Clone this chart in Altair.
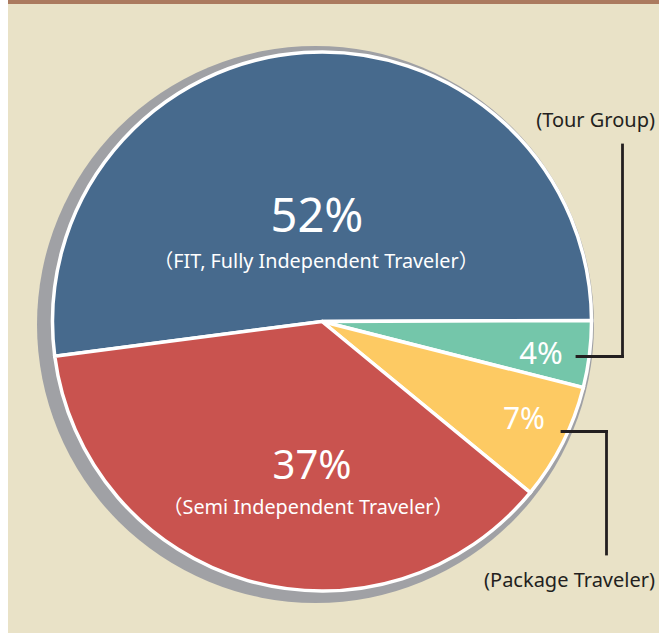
import math
import altair as alt
import pandas as pd

# ---- data ----
categories = ["FIT, Fully Independent Traveler", "Tour Group", "Package Traveler", "Semi Independent Traveler"]
values = [52, 4, 7, 37]
pct_labels = [f"{v}%" for v in values]
sub_labels = ["（FIT, Fully Independent Traveler）", "(Tour Group)", "(Package Traveler)", "（Semi Independent Traveler）"]
colors = ["#476A8D", "#74C6AA", "#FDCA63", "#C9534F"]

df = pd.DataFrame({
    "category": categories,
    "value": values,
    "pct": pct_labels,
    "sub": sub_labels,
    "order": list(range(len(categories))),
})

W, H = 659, 633
CX, CY = 322, 321.5
R = 269.5
start = math.radians(262.6)

FONT = "Noto Sans, 'Noto Sans CJK JP', sans-serif"
DARK = "#231F20"

base = alt.Chart(df)

bg = alt.Chart(df).mark_rect(color="#E9E2C7").encode(
    x=alt.value(8), x2=alt.value(W), y=alt.value(4), y2=alt.value(H)
).transform_filter(alt.datum.order == 0)

topbar = alt.Chart(df).mark_rect(color="#AB7A5F").encode(
    x=alt.value(8), x2=alt.value(W), y=alt.value(0), y2=alt.value(4)
).transform_filter(alt.datum.order == 0)

shadow = alt.Chart(df).mark_arc(
    color="#A0A1A5", theta=0, theta2=2 * math.pi, outerRadius=278.5
).encode(x=alt.value(315.5), y=alt.value(324.5)).transform_filter(alt.datum.order == 0)

pie = base.mark_arc(outerRadius=R, stroke="white", strokeWidth=3.5).encode(
    theta=alt.Theta("value:Q", stack=True, scale=alt.Scale(range=[start, start + 2 * math.pi])),
    color=alt.Color("category:N", scale=alt.Scale(domain=categories, range=colors), legend=None),
    order=alt.Order("order:Q"),
    x=alt.value(CX),
    y=alt.value(CY),
)


def txt(cat, field, x, y, size, color="white", align="center"):
    return base.mark_text(
        font=FONT, fontSize=size, color=color, align=align, baseline="alphabetic"
    ).encode(
        text=f"{field}:N", x=alt.value(x), y=alt.value(y)
    ).transform_filter(alt.datum.category == cat)


texts = [
    txt(categories[0], "pct", 317, 232, 47),
    txt(categories[0], "sub", 316, 268, 19.8),
    txt(categories[3], "pct", 312, 479, 40),
    txt(categories[3], "sub", 308, 514, 19.8),
    txt(categories[1], "pct", 541, 364, 31),
    txt(categories[2], "pct", 524, 429, 30),
    txt(categories[1], "sub", 655, 127, 20, color=DARK, align="right"),
    txt(categories[2], "sub", 655, 587, 20, color=DARK, align="right"),
]


def rule(x, x2, y, y2):
    return alt.Chart(df).mark_rule(color=DARK, strokeWidth=2.8, strokeCap="square").encode(
        x=alt.value(x), x2=alt.value(x2), y=alt.value(y), y2=alt.value(y2)
    ).transform_filter(alt.datum.order == 0)


lines = [
    rule(622.5, 622.5, 145, 356.5),
    rule(577, 622.5, 356.5, 356.5),
    rule(562, 606.5, 431.5, 431.5),
    rule(606.5, 606.5, 431.5, 554),
]

chart = alt.layer(bg, topbar, shadow, pie, *lines, *texts).properties(
    width=W, height=H, autosize=alt.AutoSizeParams(type="none"), padding=0, background="white"
).configure_view(strokeWidth=0)

chart.save("out.html", embed_options={"renderer": "svg", "actions": False})
